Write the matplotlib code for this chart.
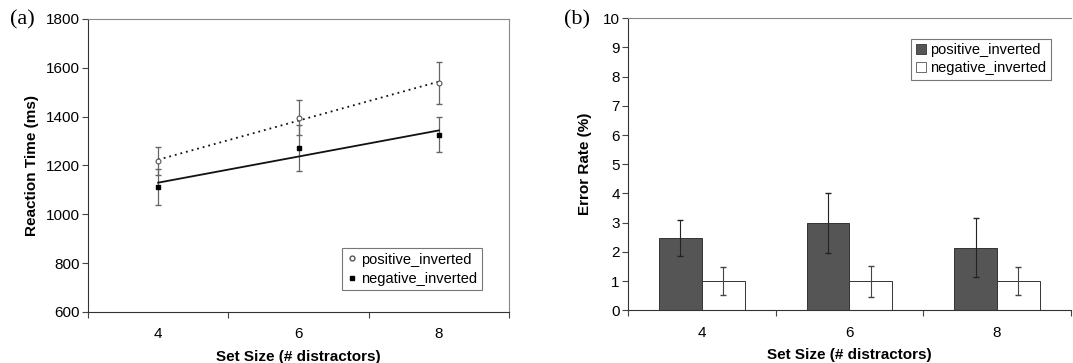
import numpy as np
import matplotlib
matplotlib.use('Agg')
import matplotlib.pyplot as plt
from matplotlib.lines import Line2D
from matplotlib.patches import Patch

plt.rcParams['font.family'] = ['Liberation Sans', 'DejaVu Sans']

# data
set_sizes = ['4', '6', '8']
rt_pos = [1218, 1395, 1538]
rt_pos_err = [58, 72, 87]
rt_neg = [1112, 1272, 1326]
rt_neg_err = [72, 94, 72]
er_pos = [2.47, 2.98, 2.15]
er_pos_err = [0.62, 1.02, 1.02]
er_neg = [1.0, 1.0, 1.0]
er_neg_err = [0.49, 0.53, 0.49]

fig = plt.figure(figsize=(10.73, 3.63), dpi=100)
ax1 = fig.add_axes([0.082, 0.1405, 0.3924, 0.8072])
ax2 = fig.add_axes([0.5853, 0.1452, 0.4127, 0.8044])

x = np.arange(len(set_sizes))

def style_axis(ax):
    ax.set_xlim(-0.5, len(set_sizes) - 0.5)
    ax.set_xticks(np.arange(-0.5, len(set_sizes)), labels=[])
    ax.set_xticks(x, labels=set_sizes, minor=True)
    ax.tick_params(axis='x', which='minor', length=0, pad=11, labelsize=11)
    ax.tick_params(axis='x', which='major', direction='out', length=4, width=0.8, color='#444')
    ax.tick_params(axis='y', direction='out', length=4, width=0.8, color='#444', labelsize=11, pad=2)
    ax.spines['left'].set_color('#333')
    ax.spines['bottom'].set_color('#333')
    ax.spines['top'].set_color('#888')
    ax.spines['right'].set_color('#888')
    ax.set_xlabel('Set Size (# distractors)', fontsize=11, fontweight='bold', labelpad=6)

# (a) reaction time
ax1.errorbar(x, rt_pos, yerr=rt_pos_err, fmt='none', ecolor='#666', elinewidth=0.9, capsize=2.5)
ax1.errorbar(x, rt_neg, yerr=rt_neg_err, fmt='none', ecolor='#666', elinewidth=0.9, capsize=2.5)
# linear trend lines through each series
for vals, ls in [(rt_pos, (0, (1, 2.2))), (rt_neg, '-')]:
    k, b = np.polyfit(x, vals, 1)
    ax1.plot(x, k * x + b, color='#111', lw=1.3, ls=ls)
ax1.plot(x, rt_pos, ls='none', marker='o', ms=3.5, mfc='white', mec='#555', mew=0.8)
ax1.plot(x, rt_neg, ls='none', marker='s', ms=3.5, mfc='black', mec='black')
ax1.set_ylim(600, 1800)
ax1.set_yticks(np.arange(600, 1801, 200))
style_axis(ax1)
ax1.set_ylabel('Reaction Time (ms)', fontsize=11, fontweight='bold', labelpad=5)
handles1 = [Line2D([], [], ls='none', marker='o', ms=3.5, mfc='white', mec='#555'),
            Line2D([], [], ls='none', marker='s', ms=3.5, mfc='black', mec='black')]
leg1 = ax1.legend(handles1, ['positive_inverted', 'negative_inverted'], loc='lower right',
                  bbox_to_anchor=(0.935, 0.075), fontsize=10.5, fancybox=False, edgecolor='#555',
                  handlelength=0.7, handletextpad=0.3, borderpad=0.3, labelspacing=0.35,
                  borderaxespad=0)
leg1.get_frame().set_linewidth(0.8)
fig.text(0.009, 0.945, '(a)', fontsize=16, family='Liberation Serif', va='center')

# (b) error rate
w = 0.29
ax2.bar(x - w / 2, er_pos, w, color='#555', edgecolor='#333', lw=0.7,
        yerr=er_pos_err, error_kw=dict(ecolor='#222', elinewidth=0.8, capsize=2))
ax2.bar(x + w / 2, er_neg, w, color='white', edgecolor='#333', lw=0.7,
        yerr=er_neg_err, error_kw=dict(ecolor='#444', elinewidth=0.8, capsize=2))
ax2.set_ylim(0, 10)
ax2.set_yticks(range(0, 11))
style_axis(ax2)
ax2.spines['right'].set_visible(False)
ax2.set_ylabel('Error Rate (%)', fontsize=11, fontweight='bold', labelpad=8)
handles2 = [Patch(facecolor='#555', edgecolor='#333', lw=0.6),
            Patch(facecolor='white', edgecolor='#555', lw=0.6)]
leg2 = ax2.legend(handles2, ['positive_inverted', 'negative_inverted'], loc='upper right',
                  bbox_to_anchor=(0.955, 0.93), fontsize=10.5, fancybox=False, edgecolor='#555',
                  handlelength=0.7, handleheight=0.7, handletextpad=0.3, borderpad=0.3,
                  labelspacing=0.3, borderaxespad=0)
leg2.get_frame().set_linewidth(0.8)
fig.text(0.526, 0.945, '(b)', fontsize=16, family='Liberation Serif', va='center')

fig.savefig('out.png', dpi=100)
